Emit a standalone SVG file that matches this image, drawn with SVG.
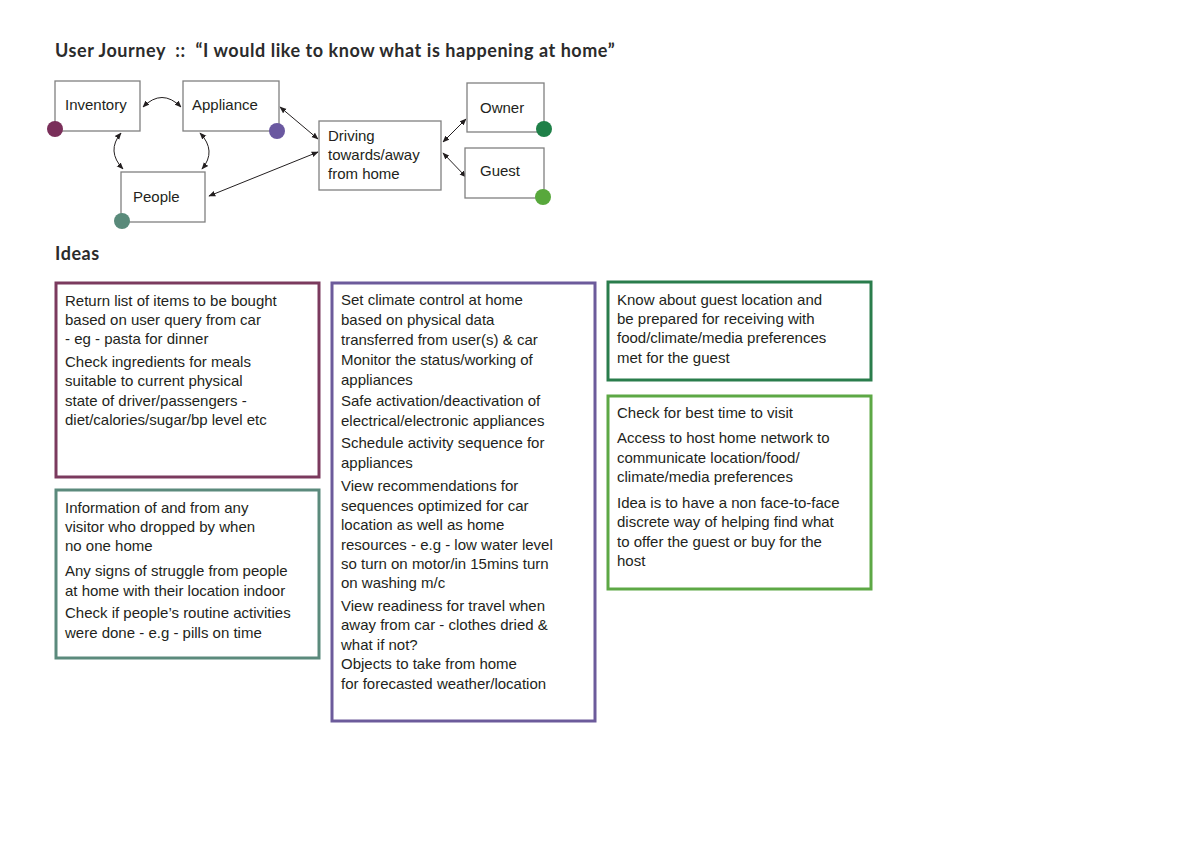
<svg xmlns="http://www.w3.org/2000/svg" width="1191" height="842" viewBox="0 0 1191 842">
<defs>
<marker id="ah" viewBox="0 0 10 10" refX="9" refY="5" markerWidth="7" markerHeight="7" markerUnits="userSpaceOnUse" orient="auto-start-reverse">
<path d="M0,1 L10,5 L0,9 z" fill="#231f20"/>
</marker>
<style>
.title{font-family:Lato,"Liberation Sans",sans-serif;font-weight:bold;font-size:18px;fill:#2b2b2b;white-space:pre;letter-spacing:0.55px}
.node rect{fill:#fff;stroke:#808080;stroke-width:1.3}
.lbl{font-family:"Liberation Sans",Arial,sans-serif;font-size:15px;fill:#231f20}
.txt{font-family:"Liberation Sans",Arial,sans-serif;font-size:15px;fill:#231f20}
.conn{fill:none;stroke:#231f20;stroke-width:1;marker-start:url(#ah);marker-end:url(#ah)}
.idea rect{fill:#fff;stroke-width:3}
</style>
</defs>
<rect width="1191" height="842" fill="#fff"/>
<text class="title" x="55" y="57" xml:space="preserve">User Journey  ::  “I would like to know what is happening at home”</text>
<text class="title" x="55" y="260">Ideas</text>

<g id="connectors">
<path class="conn" d="M143,107 Q162,88 181,107"/>
<path class="conn" d="M121,133 Q106,151 123,169"/>
<path class="conn" d="M200,133 Q217,151 202,169"/>
<path class="conn" d="M280,107 L318,139"/>
<path class="conn" d="M209,196 L318,152"/>
<path class="conn" d="M443,142 L466,119"/>
<path class="conn" d="M443,153 L466,177"/>
</g>

<g id="inventory" class="node">
<rect x="55" y="81" width="85" height="50"/>
<text class="lbl" x="65" y="110">Inventory</text>
<circle cx="55" cy="129" r="8" fill="#7a2f5a"/>
</g>
<g id="appliance" class="node">
<rect x="183" y="81" width="96" height="50"/>
<text class="lbl" x="192" y="110">Appliance</text>
<circle cx="277" cy="131" r="8" fill="#6a58a0"/>
</g>
<g id="people" class="node">
<rect x="121" y="172" width="84" height="50"/>
<text class="lbl" x="133" y="202">People</text>
<circle cx="122" cy="221" r="8" fill="#598a7a"/>
</g>
<g id="driving" class="node">
<rect x="319" y="121" width="122" height="69"/>
<text class="lbl" x="328" y="141">Driving</text>
<text class="lbl" x="328" y="160">towards/away</text>
<text class="lbl" x="328" y="179">from home</text>
</g>
<g id="owner" class="node">
<rect x="467" y="83" width="77" height="49"/>
<text class="lbl" x="480" y="113">Owner</text>
<circle cx="544" cy="129" r="8" fill="#1f8048"/>
</g>
<g id="guest" class="node">
<rect x="465" y="148" width="79" height="50"/>
<text class="lbl" x="480" y="176">Guest</text>
<circle cx="543" cy="197" r="8" fill="#58a83c"/>
</g>

<g id="idea-inventory" class="idea">
<rect x="56" y="283" width="263" height="194" stroke="#7b3a5e"/>
<text class="txt" x="65" y="306">Return list of items to be bought</text>
<text class="txt" x="65" y="325">based on user query from car</text>
<text class="txt" x="65" y="344">- eg - pasta for dinner</text>
<text class="txt" x="65" y="367">Check ingredients for meals</text>
<text class="txt" x="65" y="386">suitable to current physical</text>
<text class="txt" x="65" y="406">state of driver/passengers -</text>
<text class="txt" x="65" y="425">diet/calories/sugar/bp level etc</text>
</g>
<g id="idea-people" class="idea">
<rect x="56" y="490" width="263" height="168" stroke="#5b8a7c"/>
<text class="txt" x="65" y="513">Information of and from any</text>
<text class="txt" x="65" y="532">visitor who dropped by when</text>
<text class="txt" x="65" y="551">no one home</text>
<text class="txt" x="65" y="576">Any signs of struggle from people</text>
<text class="txt" x="65" y="596">at home with their location indoor</text>
<text class="txt" x="65" y="618">Check if people’s routine activities</text>
<text class="txt" x="65" y="638">were done - e.g - pills on time</text>
</g>
<g id="idea-appliance" class="idea">
<rect x="332" y="283" width="263" height="438" stroke="#6c5b9b"/>
<text class="txt" x="341" y="305">Set climate control at home</text>
<text class="txt" x="341" y="325">based on physical data</text>
<text class="txt" x="341" y="345">transferred from user(s) &amp; car</text>
<text class="txt" x="341" y="365">Monitor the status/working of</text>
<text class="txt" x="341" y="385">appliances</text>
<text class="txt" x="341" y="406">Safe activation/deactivation of</text>
<text class="txt" x="341" y="426">electrical/electronic appliances</text>
<text class="txt" x="341" y="448">Schedule activity sequence for</text>
<text class="txt" x="341" y="468">appliances</text>
<text class="txt" x="341" y="491">View recommendations for</text>
<text class="txt" x="341" y="511">sequences optimized for car</text>
<text class="txt" x="341" y="530">location as well as home</text>
<text class="txt" x="341" y="550">resources - e.g - low water level</text>
<text class="txt" x="341" y="569">so turn on motor/in 15mins turn</text>
<text class="txt" x="341" y="588">on washing m/c</text>
<text class="txt" x="341" y="611">View readiness for travel when</text>
<text class="txt" x="341" y="630">away from car - clothes dried &amp;</text>
<text class="txt" x="341" y="650">what if not?</text>
<text class="txt" x="341" y="669">Objects to take from home</text>
<text class="txt" x="341" y="689">for forecasted weather/location</text>
</g>
<g id="idea-owner" class="idea">
<rect x="608" y="282" width="263" height="98" stroke="#2a7d4c"/>
<text class="txt" x="617" y="305">Know about guest location and</text>
<text class="txt" x="617" y="324">be prepared for receiving with</text>
<text class="txt" x="617" y="343">food/climate/media preferences</text>
<text class="txt" x="617" y="363">met for the guest</text>
</g>
<g id="idea-guest" class="idea">
<rect x="608" y="396" width="263" height="193" stroke="#5da845"/>
<text class="txt" x="617" y="418">Check for best time to visit</text>
<text class="txt" x="617" y="443">Access to host home network to</text>
<text class="txt" x="617" y="463">communicate location/food/</text>
<text class="txt" x="617" y="482">climate/media preferences</text>
<text class="txt" x="617" y="508">Idea is to have a non face-to-face</text>
<text class="txt" x="617" y="527">discrete way of helping find what</text>
<text class="txt" x="617" y="547">to offer the guest or buy for the</text>
<text class="txt" x="617" y="566">host</text>
</g>
</svg>
